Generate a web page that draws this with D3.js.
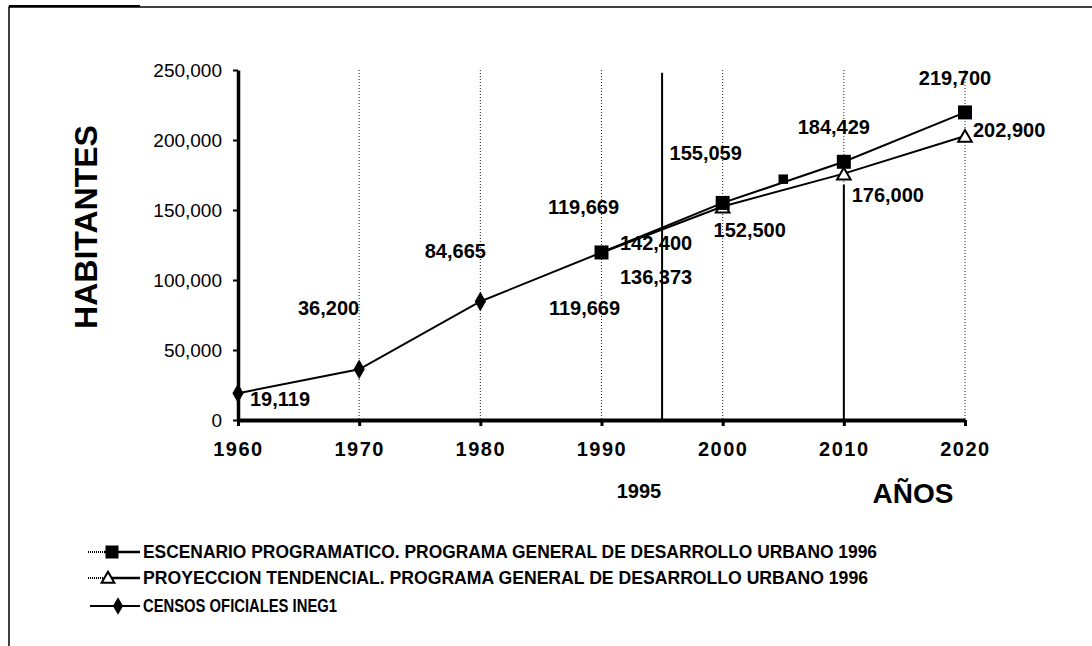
<!DOCTYPE html>
<html>
  <head>
    <meta charset="utf-8">
    <title>Habitantes 1960-2020</title>
    <style>
      body { margin: 0; background: #fff; }
      svg text { font-family: "Liberation Sans", Arial, sans-serif; fill: #000; }
    </style>
  </head>
  <body>
    <div id="chart"></div>
  </body>
  <script src="https://d3js.org/d3.v7.min.js"></script>
  <script>

    // tick values
    let yearTicks = [1960, 1970, 1980, 1990, 2000, 2010, 2020];
    let popTicks = [0, 50000, 100000, 150000, 200000, 250000];

    // series
    let censosYears = [1960, 1970, 1980, 1990, 1995];
    let censosValues = [19119, 36200, 84665, 119669, 136373];

    let escenarioYears = [1990, 2000, 2010, 2020];
    let escenarioValues = [119669, 155059, 184429, 219700];

    let tendencialYears = [1990, 2000, 2010, 2020];
    let tendencialValues = [119669, 152500, 176000, 202900];

    // small marker at 2005 on the upper line
    let extraYears = [2005];
    let extraValues = [172000];

    // value labels (text shown) and the point they belong to
    let labelYears  = [1960, 1970, 1980, 1990, 1990, 1995, 1995, 2000, 2000, 2010, 2010, 2020, 2020];
    let labelValues = [19119, 36200, 84665, 119669, 119669, 142400, 136373, 155059, 152500, 184429, 176000, 219700, 202900];

    let legendNames = [
      "ESCENARIO PROGRAMATICO. PROGRAMA GENERAL DE DESARROLLO URBANO 1996",
      "PROYECCION TENDENCIAL. PROGRAMA GENERAL DE DESARROLLO URBANO 1996",
      "CENSOS OFICIALES INEG1"
    ];

    let width = 1092, height = 646;

    let svg = d3.select("#chart").append("svg")
      .attr("width", width)
      .attr("height", height);

    // page frame
    svg.append("path")
      .attr("d", "M9,646 L9,7 L1092,7")
      .attr("fill", "none")
      .attr("stroke", "#000")
      .attr("stroke-width", 1.5);
    svg.append("line")
      .attr("x1", 9).attr("x2", 140).attr("y1", 6).attr("y2", 6)
      .attr("stroke", "#000").attr("stroke-width", 2);

    let x = d3.scaleLinear().domain([1960, 2020]).range([238, 965]);
    let y = d3.scaleLinear().domain([0, 250000]).range([420, 70]);

    // vertical dotted guides
    svg.selectAll(".guide")
      .data(yearTicks.slice(1))
      .enter().append("line")
      .attr("class", "guide")
      .attr("x1", d => x(d)).attr("x2", d => x(d))
      .attr("y1", y(250000)).attr("y2", y(0))
      .attr("stroke", "#222")
      .attr("stroke-width", 1)
      .attr("stroke-dasharray", "1,2");

    // solid reference lines at 1995 and under 2010
    svg.append("line")
      .attr("x1", x(1995)).attr("x2", x(1995))
      .attr("y1", y(248000)).attr("y2", y(0))
      .attr("stroke", "#000").attr("stroke-width", 2);
    svg.append("line")
      .attr("x1", x(2010)).attr("x2", x(2010))
      .attr("y1", y(168000)).attr("y2", y(0))
      .attr("stroke", "#000").attr("stroke-width", 2);

    // axes
    let yAxis = svg.append("g")
      .attr("transform", "translate(" + x(1960) + ",0)")
      .call(d3.axisLeft(y).tickValues(popTicks).tickFormat(d3.format(","))
        .tickSize(5).tickSizeOuter(0).tickPadding(11));
    yAxis.select(".domain").attr("stroke-width", 3.5);
    yAxis.selectAll(".tick line").attr("stroke-width", 2);
    yAxis.selectAll("text")
      .attr("font-size", 19)
      .attr("font-family", "Liberation Sans, Arial, sans-serif");

    let xAxis = svg.append("g")
      .attr("transform", "translate(0," + y(0) + ")")
      .call(d3.axisBottom(x).tickValues(yearTicks).tickFormat(d3.format("d"))
        .tickSize(6).tickSizeOuter(0).tickPadding(16));
    xAxis.select(".domain").attr("stroke-width", 4);
    xAxis.selectAll(".tick line").attr("stroke-width", 3);
    xAxis.selectAll("text")
      .attr("font-size", 20)
      .attr("font-weight", "bold")
      .attr("letter-spacing", 1.5)
      .attr("font-family", "Liberation Sans, Arial, sans-serif");

    // series lines
    function drawSeries(xs, vs) {
      let pts = xs.map((d, i) => [d, vs[i]]);
      svg.append("path")
        .datum(pts)
        .attr("fill", "none")
        .attr("stroke", "#000")
        .attr("stroke-width", 2)
        .attr("d", d3.line().x(d => x(d[0])).y(d => y(d[1])));
      return pts;
    }

    let censosPts = drawSeries(censosYears, censosValues);
    let tendPts = drawSeries(tendencialYears, tendencialValues);
    let escPts = drawSeries(escenarioYears, escenarioValues);

    // markers
    svg.selectAll(".diamond")
      .data(censosPts.slice(0, 3))
      .enter().append("path")
      .attr("transform", d => "translate(" + x(d[0]) + "," + y(d[1]) + ")")
      .attr("d", d3.symbol(d3.symbolDiamond, 110));

    svg.selectAll(".tri")
      .data(tendPts.slice(1))
      .enter().append("path")
      .attr("transform", d => "translate(" + x(d[0]) + "," + (y(d[1]) + 2) + ")")
      .attr("d", d3.symbol(d3.symbolTriangle, 80))
      .attr("fill", "#fff")
      .attr("stroke", "#000")
      .attr("stroke-width", 2);

    svg.selectAll(".sq")
      .data(escPts)
      .enter().append("path")
      .attr("transform", d => "translate(" + x(d[0]) + "," + y(d[1]) + ")")
      .attr("d", d3.symbol(d3.symbolSquare, 196));

    svg.selectAll(".sqsmall")
      .data(extraYears.map((d, i) => [d, extraValues[i]]))
      .enter().append("path")
      .attr("transform", d => "translate(" + x(d[0]) + "," + y(d[1]) + ")")
      .attr("d", d3.symbol(d3.symbolSquare, 90));

    // value labels: offsets in pixels from the point
    let labelPlace = [
      {dx: 12, dy: 6, anchor: "start"},
      {dx: 0, dy: -62, anchor: "end"},
      {dx: -25, dy: -51, anchor: "middle"},
      {dx: -18, dy: -46, anchor: "middle"},
      {dx: -17, dy: 55, anchor: "middle"},
      {dx: -6, dy: 22, anchor: "middle"},
      {dx: -6, dy: 48, anchor: "middle"},
      {dx: -17, dy: -50, anchor: "middle"},
      {dx: 27, dy: 23, anchor: "middle"},
      {dx: -10, dy: -35, anchor: "middle"},
      {dx: 44, dy: 21, anchor: "middle"},
      {dx: -10, dy: -35, anchor: "middle"},
      {dx: 8, dy: -6, anchor: "start"}
    ];

    svg.selectAll(".vlabel")
      .data(labelYears.map((d, i) => ({year: d, value: labelValues[i], p: labelPlace[i]})))
      .enter().append("text")
      .attr("class", "vlabel")
      .attr("x", d => x(d.year) + d.p.dx)
      .attr("y", d => y(d.value) + d.p.dy)
      .attr("dy", "0.36em")
      .attr("text-anchor", d => d.p.anchor)
      .attr("font-size", 20)
      .attr("font-weight", "bold")
      .text(d => d3.format(",")(d.value));

    // axis titles
    svg.append("text")
      .attr("transform", "translate(97,227) rotate(-90)")
      .attr("text-anchor", "middle")
      .attr("font-size", 32)
      .attr("font-weight", "bold")
      .text("HABITANTES");

    svg.append("text")
      .attr("x", 913).attr("y", 493).attr("dy", "0.36em")
      .attr("text-anchor", "middle")
      .attr("font-size", 28)
      .attr("font-weight", "bold")
      .text("AÑOS");

    svg.append("text")
      .attr("x", 639).attr("y", 491).attr("dy", "0.36em")
      .attr("text-anchor", "middle")
      .attr("font-size", 20)
      .attr("font-weight", "bold")
      .text("1995");

    // legend
    let legendY = [552, 578, 606];
    let legendLen = [734, 725, 194];
    let legend = svg.selectAll(".legend")
      .data(legendNames)
      .enter().append("g")
      .attr("transform", (d, i) => "translate(0," + legendY[i] + ")");

    legend.append("line")
      .attr("x1", (d, i) => i < 2 ? 88 : 90).attr("x2", (d, i) => i < 2 ? 104 : 140)
      .attr("stroke", "#000")
      .attr("stroke-width", 2)
      .attr("stroke-dasharray", (d, i) => i < 2 ? "1,1" : null);
    legend.filter((d, i) => i < 2).append("line")
      .attr("x1", 104).attr("x2", 140)
      .attr("stroke", "#000").attr("stroke-width", 2.5);

    legend.append("path")
      .attr("transform", (d, i) => "translate(" + [112, 108, 118][i] + "," + (i === 1 ? 1 : 0) + ")")
      .attr("d", (d, i) => d3.symbol([d3.symbolSquare, d3.symbolTriangle, d3.symbolDiamond][i], [170, 70, 90][i])())
      .attr("fill", (d, i) => i === 1 ? "#fff" : "#000")
      .attr("stroke", "#000")
      .attr("stroke-width", (d, i) => i === 1 ? 2 : 0);

    legend.append("text")
      .attr("x", 143)
      .attr("dy", "0.36em")
      .attr("font-size", 18)
      .attr("font-weight", "bold")
      .attr("textLength", (d, i) => legendLen[i])
      .attr("lengthAdjust", "spacingAndGlyphs")
      .text(d => d);

  </script>
</html>
